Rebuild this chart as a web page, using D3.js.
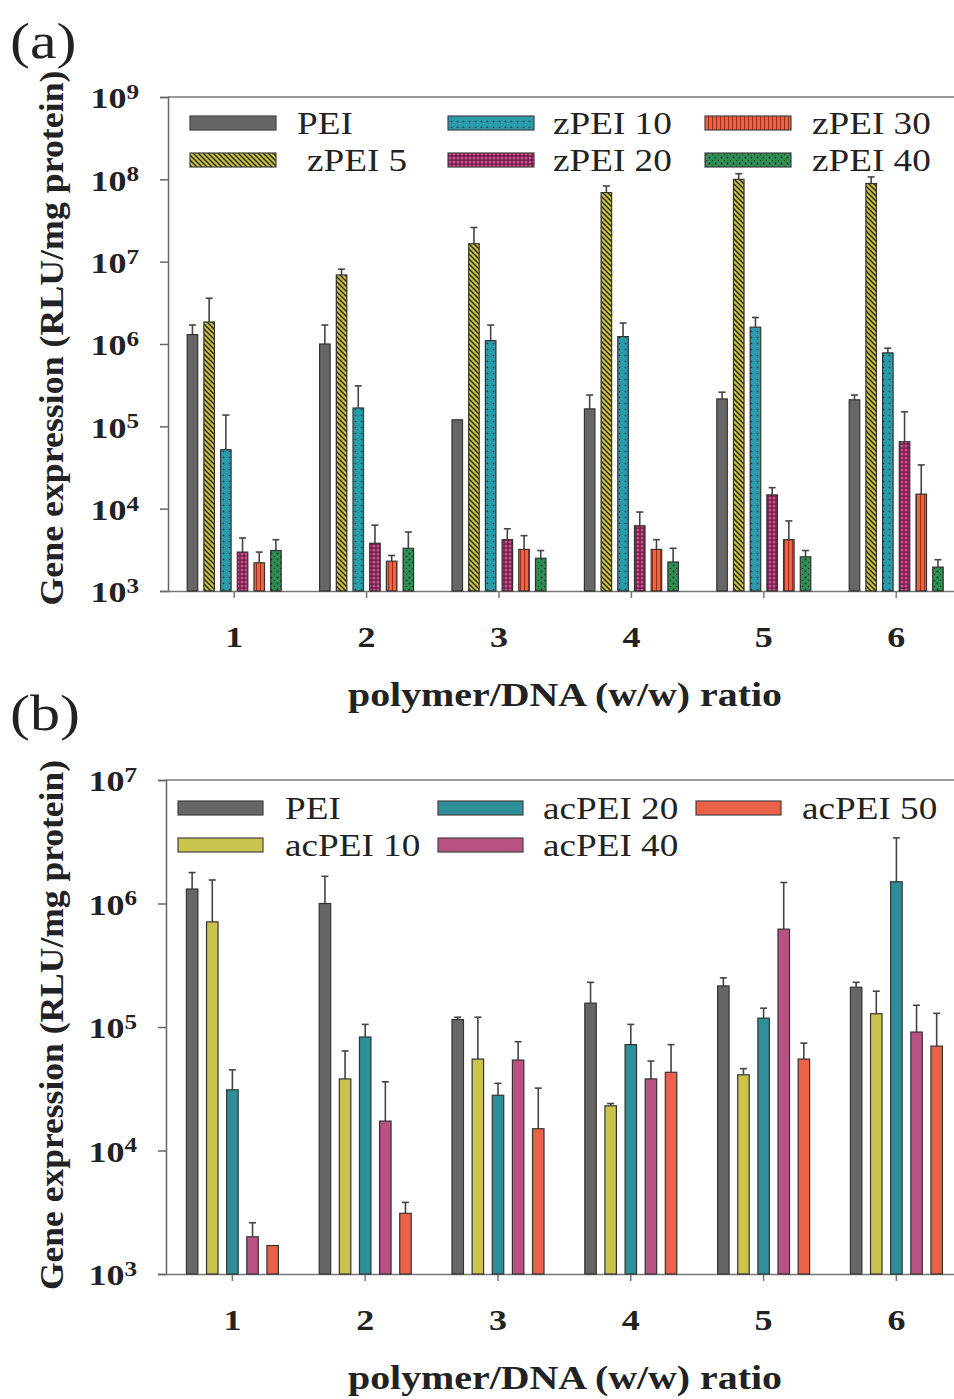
<!DOCTYPE html>
<html lang="en">
<head>
    <meta charset="UTF-8">
    <title>Gene expression - polymer/DNA ratio</title>
    <script src="https://d3js.org/d3.v7.min.js"></script>
    <style>
        body { margin: 0; background: #fff; }
        svg { display: block; }
        text { font-family: "Liberation Serif", "Times New Roman", serif; }
        .tick-lbl { font-size: 30px; font-weight: bold; fill: #222; }
        .axis-title { font-size: 34px; font-weight: bold; fill: #222; }
        .legend-lbl { font-size: 31px; fill: #222; }
        .panel-lbl { font-size: 50px; fill: #222; }
    </style>
</head>
<body>
<svg id="chart" width="954" height="1399"></svg>
<script>
    // x categories (polymer/DNA w/w ratio)
    const ratios = ["1", "2", "3", "4", "5", "6"];

    // panel (a) series, bar tops and error bar tops (RLU/mg protein)
    const seriesA = ["PEI", "zPEI 5", "zPEI 10", "zPEI 20", "zPEI 30", "zPEI 40"];
    const peiA      = [1.3e6, 1.0e6, 1.2e5, 1.63e5, 2.15e5, 2.1e5];
    const peiAErr   = [1.7e6, 1.7e6, 1.22e5, 2.4e5, 2.6e5, 2.4e5];
    const zpei5     = [1.85e6, 6.9e6, 1.65e7, 6.9e7, 1.0e8, 8.9e7];
    const zpei5Err  = [3.6e6, 8.1e6, 2.6e7, 8.3e7, 1.17e8, 1.07e8];
    const zpei10    = [5.2e4, 1.67e5, 1.1e6, 1.23e6, 1.6e6, 7.8e5];
    const zpei10Err = [1.37e5, 3.1e5, 1.7e6, 1.8e6, 2.1e6, 8.9e5];
    const zpei20    = [2.97e3, 3.8e3, 4.2e3, 6.2e3, 1.47e4, 6.5e4];
    const zpei20Err = [4.4e3, 6.3e3, 5.7e3, 9.1e3, 1.8e4, 1.5e5];
    const zpei30    = [2.2e3, 2.3e3, 3.2e3, 3.2e3, 4.2e3, 1.5e4];
    const zpei30Err = [2.97e3, 2.7e3, 4.7e3, 4.2e3, 7.1e3, 3.4e4];
    const zpei40    = [3.1e3, 3.3e3, 2.5e3, 2.25e3, 2.6e3, 1.95e3];
    const zpei40Err = [4.2e3, 5.2e3, 3.1e3, 3.3e3, 3.1e3, 2.4e3];

    // panel (b) series
    const seriesB = ["PEI", "acPEI 10", "acPEI 20", "acPEI 40", "acPEI 50"];
    const peiB       = [1.31e6, 1.0e6, 1.15e5, 1.56e5, 2.15e5, 2.1e5];
    const peiBErr    = [1.78e6, 1.66e6, 1.2e5, 2.3e5, 2.5e5, 2.3e5];
    const acpei10    = [7.1e5, 3.8e4, 5.5e4, 2.3e4, 4.1e4, 1.28e5];
    const acpei10Err = [1.55e6, 6.4e4, 1.2e5, 2.4e4, 4.6e4, 1.95e5];
    const acpei20    = [3.1e4, 8.3e4, 2.8e4, 7.2e4, 1.18e5, 1.5e6];
    const acpei20Err = [4.5e4, 1.05e5, 3.5e4, 1.05e5, 1.42e5, 3.4e6];
    const acpei40    = [2.0e3, 1.73e4, 5.4e4, 3.8e4, 6.2e5, 9.1e4];
    const acpei40Err = [2.6e3, 3.6e4, 7.6e4, 5.3e4, 1.48e6, 1.5e5];
    const acpei50    = [1.7e3, 3.1e3, 1.5e4, 4.3e4, 5.5e4, 7.0e4];
    const acpei50Err = [1.7e3, 3.8e3, 3.2e4, 7.2e4, 7.4e4, 1.29e5];

    const SX = 1.2;  // the source figure is stretched horizontally

    const svg = d3.select("#chart");
    const defs = svg.append("defs");

    // hatch patterns for panel (a)
    function pattern(id, size, bg, draw) {
        const p = defs.append("pattern")
            .attr("id", id)
            .attr("patternUnits", "userSpaceOnUse")
            .attr("width", size).attr("height", size);
        p.append("rect").attr("width", size).attr("height", size).attr("fill", bg);
        draw(p);
    }
    pattern("pDiag", 5, "#cdc43c", p => {
        p.append("path").attr("d", "M-1,-1 L6,6 M-1,4 L1,6 M4,-1 L6,1")
            .attr("stroke", "#222").attr("stroke-width", 1.4);
    });
    pattern("pTeal", 6, "#2b9aa9", p => {
        p.append("circle").attr("cx", 1.5).attr("cy", 1.5).attr("r", 0.8).attr("fill", "#123");
    });
    pattern("pMag", 4, "#6e1f4a", p => {
        p.append("circle").attr("cx", 2).attr("cy", 2).attr("r", 1.5).attr("fill", "#d0508f");
    });
    pattern("pOrange", 4, "#f2603f", p => {
        p.append("line").attr("x1", 0.5).attr("x2", 0.5).attr("y1", 0).attr("y2", 4)
            .attr("stroke", "#8a2a18").attr("stroke-width", 0.9);
    });
    pattern("pGreen", 6, "#2f8f55", p => {
        p.append("circle").attr("cx", 1.5).attr("cy", 1.5).attr("r", 0.9).attr("fill", "#0b2a15");
        p.append("circle").attr("cx", 4.5).attr("cy", 4.5).attr("r", 0.7).attr("fill", "#0b2a15");
    });

    const fillsA = ["#666", "url(#pDiag)", "url(#pTeal)", "url(#pMag)", "url(#pOrange)", "url(#pGreen)"];
    const fillsB = ["#666", "#cac34e", "#2e8f98", "#ba5183", "#ec6249"];

    function drawPanel(cfg) {
        const g = svg.append("g");
        const y = d3.scaleLog().domain([1e3, cfg.yMax]).range([cfg.bottom, cfg.top]);
        const x = d3.scaleBand().domain(ratios).range([cfg.left, cfg.left + 6 * cfg.step]);
        const xs = d3.scaleBand().domain(cfg.series).range([-cfg.half, cfg.half])
            .paddingInner(cfg.pad).paddingOuter(0);

        // top frame line
        g.append("line").attr("x1", cfg.left).attr("x2", 960)
            .attr("y1", cfg.top).attr("y2", cfg.top)
            .attr("stroke", "#777").attr("stroke-width", 1.5);

        // y axis
        const yAxis = d3.axisLeft(y)
            .tickValues(d3.range(3, Math.log10(cfg.yMax) + 1).map(e => Math.pow(10, e)))
            .tickSize(8).tickFormat("");
        const ya = g.append("g").attr("transform", `translate(${cfg.left},0)`).call(yAxis);
        ya.selectAll("path, line").attr("stroke", "#666").attr("stroke-width", 1.5);
        ya.selectAll(".tick").append("text")
            .attr("class", "tick-lbl")
            .attr("transform", `translate(-29,0) scale(${SX},1)`)
            .attr("dy", "0.36em")
            .attr("text-anchor", "end")
            .each(function (d) {
                const t = d3.select(this);
                t.append("tspan").text("10");
                t.append("tspan").attr("dy", "-0.45em").attr("font-size", "21px")
                    .text(Math.round(Math.log10(d)));
            });

        // x axis
        const xa = g.append("g").attr("transform", `translate(0,${cfg.bottom})`)
            .call(d3.axisBottom(x).tickSize(7).tickSizeOuter(0).tickFormat(""));
        xa.select(".domain").attr("d", `M${cfg.left},0.5H960`);
        xa.selectAll("path, line").attr("stroke", "#777").attr("stroke-width", 1.5);
        xa.selectAll(".tick").append("text")
            .attr("class", "tick-lbl")
            .attr("transform", `translate(0,56) scale(${SX},1)`)
            .attr("text-anchor", "middle")
            .text(d => d);

        // bars with error bars
        cfg.series.forEach((s, i) => {
            const vals = cfg.values[i], errs = cfg.errors[i];
            const bg = g.append("g");
            ratios.forEach((r, j) => {
                const cx = x(r) + x.bandwidth() / 2;
                const bx = cx + xs(s);
                const w = xs.bandwidth();
                if (errs[j] > vals[j] * 1.02) {
                    bg.append("line")
                        .attr("x1", bx + w / 2).attr("x2", bx + w / 2)
                        .attr("y1", y(vals[j])).attr("y2", y(errs[j]))
                        .attr("stroke", "#444").attr("stroke-width", 1.6);
                    bg.append("line")
                        .attr("x1", bx + w / 2 - 3.5).attr("x2", bx + w / 2 + 3.5)
                        .attr("y1", y(errs[j])).attr("y2", y(errs[j]))
                        .attr("stroke", "#444").attr("stroke-width", 1.6);
                }
                bg.append("rect")
                    .attr("x", bx).attr("width", w)
                    .attr("y", y(vals[j])).attr("height", cfg.bottom - y(vals[j]))
                    .attr("fill", cfg.fills[i])
                    .attr("stroke", "#333").attr("stroke-width", 1.2);
            });
        });

        // legend, two rows filled column by column
        cfg.series.forEach((s, i) => {
            const col = Math.floor(i / 2), row = i % 2;
            const lx = cfg.legX[col], ly = cfg.legY[row];
            g.append("rect")
                .attr("x", lx).attr("y", ly - 7)
                .attr("width", cfg.swW).attr("height", 14)
                .attr("fill", cfg.fills[i])
                .attr("stroke", "#444").attr("stroke-width", 1.2);
            g.append("text")
                .attr("class", "legend-lbl")
                .attr("transform", `translate(${cfg.legTextX[col] + (cfg.legShift[i] || 0)},${ly + 11}) scale(${SX},1)`)
                .text(s);
        });

        // axis titles
        g.append("text").attr("class", "axis-title")
            .attr("x", 565).attr("y", cfg.bottom + 115)
            .attr("text-anchor", "middle")
            .attr("textLength", 434).attr("lengthAdjust", "spacingAndGlyphs")
            .text("polymer/DNA (w/w) ratio");
        g.append("text").attr("class", "axis-title")
            .attr("transform", `translate(63,${cfg.titleY}) rotate(-90)`)
            .attr("text-anchor", "middle")
            .attr("textLength", cfg.titleLen).attr("lengthAdjust", "spacingAndGlyphs")
            .text("Gene expression (RLU/mg protein)");

        g.append("text").attr("class", "panel-lbl")
            .attr("transform", `translate(10,${cfg.labelY}) scale(${SX},1)`)
            .text(cfg.label);
    }

    drawPanel({
        label: "(a)", labelY: 58,
        top: 97, bottom: 591, yMax: 1e9,
        left: 168, step: 132.4, half: 47, pad: 0.37,
        series: seriesA,
        values: [peiA, zpei5, zpei10, zpei20, zpei30, zpei40],
        errors: [peiAErr, zpei5Err, zpei10Err, zpei20Err, zpei30Err, zpei40Err],
        fills: fillsA,
        legX: [190, 448, 705], legY: [123, 160], swW: 86,
        legTextX: [297, 553, 812], legShift: {1: 10},
        titleY: 338, titleLen: 535
    });

    drawPanel({
        label: "(b)", labelY: 730,
        top: 780, bottom: 1274, yMax: 1e7,
        left: 166, step: 132.8, half: 46, pad: 0.43,
        series: seriesB,
        values: [peiB, acpei10, acpei20, acpei40, acpei50],
        errors: [peiBErr, acpei10Err, acpei20Err, acpei40Err, acpei50Err],
        fills: fillsB,
        legX: [178, 438, 696], legY: [808, 845], swW: 85,
        legTextX: [285, 543, 802], legShift: {},
        titleY: 1025, titleLen: 530
    });
</script>
</body>
</html>
